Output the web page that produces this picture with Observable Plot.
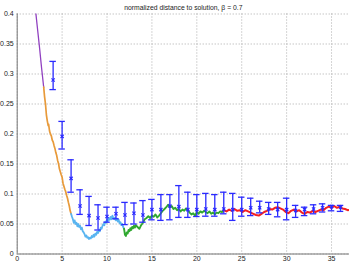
<!DOCTYPE html>
<html><head><meta charset="utf-8">
<script src="https://cdn.jsdelivr.net/npm/d3@7"></script>
<script src="https://cdn.jsdelivr.net/npm/@observablehq/plot@0.6"></script>
<style>
html,body{margin:0;padding:0;background:#fff;overflow:hidden;}
#chart{position:absolute;left:0;top:0;}
</style></head>
<body><div id="chart"></div>
<script>
const title = "normalized distance to solution, \u03b2 = 0.7";
const xTicks = [0, 5, 10, 15, 20, 25, 30, 35];
const yTicks = [0, 0.05, 0.1, 0.15, 0.2, 0.25, 0.3, 0.35, 0.4];

// error bars: x, mean, low, high
const errX    = [4, 5, 6, 7, 8, 9, 10, 11, 12, 13, 14, 15, 16, 17, 18, 19, 20, 21, 22, 23, 24, 25, 26, 27, 28, 29, 30, 31, 32, 33, 34, 35, 36];
const errMean = [0.290, 0.196, 0.126, 0.080, 0.064, 0.060, 0.0625, 0.067, 0.065, 0.068, 0.065, 0.074, 0.074, 0.080, 0.079, 0.074, 0.074, 0.075, 0.074, 0.075, 0.074, 0.074, 0.077, 0.077, 0.075, 0.074, 0.074, 0.0725, 0.074, 0.075, 0.077, 0.079, 0.078];
const errLow  = [0.274, 0.175, 0.103, 0.066, 0.0475, 0.040, 0.053, 0.0587, 0.049, 0.050, 0.053, 0.057, 0.056, 0.057, 0.061, 0.061, 0.0625, 0.063, 0.063, 0.067, 0.056, 0.063, 0.064, 0.0686, 0.066, 0.062, 0.057, 0.061, 0.064, 0.067, 0.070, 0.072, 0.071];
const errHigh = [0.321, 0.221, 0.157, 0.107, 0.096, 0.082, 0.078, 0.078, 0.086, 0.085, 0.089, 0.091, 0.099, 0.099, 0.114, 0.103, 0.099, 0.101, 0.099, 0.103, 0.101, 0.0947, 0.093, 0.088, 0.086, 0.086, 0.093, 0.081, 0.078, 0.082, 0.0836, 0.081, 0.081];

// curve segments [x, y]
const purple = [[1.9,0.43],[2.1,0.398],[2.3,0.37],[2.5,0.342],[2.7,0.312],[2.95,0.278]];
const orange = [[2.95,0.278],[3.05,0.262],[3.15,0.25],[3.25,0.232],[3.35,0.222],[3.45,0.214],[3.5,0.216],[3.6,0.205],[3.7,0.2],[3.8,0.197],[3.9,0.19],[4.0,0.187],[4.1,0.181],[4.2,0.176],[4.3,0.169],[4.4,0.164],[4.5,0.156],[4.6,0.151],[4.7,0.142],[4.8,0.137],[4.9,0.132],[5.0,0.128],[5.1,0.118],[5.2,0.113],[5.3,0.108],[5.4,0.104],[5.5,0.098],[5.6,0.093],[5.7,0.086],[5.8,0.08],[5.9,0.072],[6.0,0.067]];
const blue = [[6.0,0.067],[6.1,0.062],[6.2,0.058],[6.3,0.052],[6.4,0.056],[6.5,0.05],[6.6,0.052],[6.7,0.046],[6.8,0.05],[6.9,0.045],[7.0,0.047],[7.1,0.041],[7.2,0.044],[7.3,0.038],[7.4,0.036],[7.5,0.033],[7.6,0.029],[7.7,0.031],[7.8,0.027],[7.9,0.028],[8.0,0.025],[8.1,0.027],[8.2,0.026],[8.3,0.03],[8.4,0.028],[8.5,0.032],[8.6,0.029],[8.7,0.034],[8.8,0.032],[8.9,0.037],[9.0,0.035],[9.1,0.04],[9.2,0.038],[9.3,0.044],[9.4,0.042],[9.5,0.047],[9.6,0.05],[9.7,0.048],[9.8,0.054],[9.9,0.052],[10.0,0.058],[10.1,0.055],[10.2,0.06],[10.3,0.057],[10.4,0.062],[10.5,0.058],[10.6,0.064],[10.7,0.06],[10.8,0.058],[10.9,0.061],[11.0,0.056],[11.1,0.059],[11.2,0.054],[11.3,0.057],[11.4,0.051],[11.5,0.053],[11.6,0.048],[11.7,0.05],[11.8,0.045],[11.9,0.042]];
const green = [[11.9,0.042],[12.0,0.032],[12.1,0.03],[12.2,0.036],[12.3,0.034],[12.4,0.04],[12.5,0.038],[12.6,0.043],[12.7,0.04],[12.8,0.045],[12.9,0.043],[13.0,0.047],[13.1,0.044],[13.2,0.048],[13.4,0.045],[13.6,0.042],[13.8,0.048],[14.0,0.052],[14.2,0.058],[14.4,0.06],[14.6,0.063],[14.8,0.06],[15.0,0.064],[15.2,0.062],[15.4,0.066],[15.6,0.061],[15.8,0.064],[16.0,0.068],[16.2,0.072],[16.4,0.075],[16.6,0.078],[16.8,0.082],[17.0,0.078],[17.2,0.08],[17.4,0.075],[17.6,0.077],[17.8,0.073],[18.0,0.075],[18.2,0.071],[18.4,0.074],[18.6,0.072],[18.8,0.076],[19.0,0.073],[19.2,0.069],[19.4,0.066],[19.6,0.068],[19.8,0.064],[20.0,0.07],[20.2,0.067],[20.4,0.071],[20.6,0.069],[20.8,0.072],[21.0,0.07],[21.2,0.068],[21.4,0.071],[21.6,0.067],[21.8,0.069],[22.0,0.066],[22.2,0.069],[22.4,0.068],[22.6,0.071],[22.8,0.07],[23.0,0.073]];
const red = [[23.0,0.073],[23.3,0.071],[23.6,0.074],[23.9,0.072],[24.2,0.075],[24.5,0.072],[24.8,0.073],[25.1,0.07],[25.4,0.073],[25.7,0.071],[26.0,0.069],[26.3,0.067],[26.6,0.065],[26.9,0.064],[27.2,0.067],[27.5,0.07],[27.8,0.072],[28.1,0.075],[28.4,0.074],[28.7,0.077],[29.0,0.078],[29.3,0.076],[29.6,0.074],[29.9,0.07],[30.2,0.068],[30.5,0.072],[30.8,0.074],[31.1,0.071],[31.4,0.073],[31.7,0.069],[32.0,0.067],[32.3,0.07],[32.6,0.069],[32.9,0.072],[33.2,0.07],[33.5,0.072],[33.8,0.074],[34.1,0.073],[34.4,0.077],[34.7,0.079],[35.0,0.077],[35.3,0.08],[35.6,0.077],[35.9,0.079],[36.2,0.076],[36.5,0.075],[36.8,0.073],[37.1,0.074]];

const segments = [
  {pts: purple, color: "#9040c0", w: 1.3},
  {pts: orange, color: "#e89a3a", w: 1.7},
  {pts: blue,   color: "#58b4f0", w: 1.8},
  {pts: green,  color: "#30a830", w: 1.9},
  {pts: red,    color: "#f52020", w: 2}
];

const err = errX.map((x, i) => ({x, m: errMean[i], lo: errLow[i], hi: errHigh[i]}));
const capHalf = 0.36;
const errColor = "#2a2aff";
const font = "Liberation Sans, Arial, sans-serif";

const chart = Plot.plot({
  width: 349, height: 262,
  marginTop: 13.5, marginLeft: 16.7, marginRight: 0, marginBottom: 8.5,
  style: {fontFamily: font, fontSize: "7px", color: "#222", background: "#fff", overflow: "visible"},
  x: {domain: [0, 37], label: null},
  y: {domain: [0, 0.4], label: null},
  marks: [
    Plot.gridX(xTicks, {stroke: "#aaa", strokeOpacity: 1, strokeDasharray: "1,2"}),
    Plot.gridY(yTicks, {stroke: "#aaa", strokeOpacity: 1, strokeDasharray: "1,2"}),
    Plot.ruleX([0], {stroke: "#777"}),
    Plot.ruleY([0], {stroke: "#777"}),
    ...segments.map(s => Plot.line(s.pts, {x: d => d[0], y: d => d[1], stroke: s.color, strokeWidth: s.w, clip: true})),
    Plot.ruleX(err, {x: "x", y1: "lo", y2: "hi", stroke: errColor, strokeWidth: 1.3}),
    Plot.ruleY(err, {y: "hi", x1: d => d.x - capHalf, x2: d => d.x + capHalf, stroke: errColor, strokeWidth: 1.3}),
    Plot.ruleY(err, {y: "lo", x1: d => d.x - capHalf, x2: d => d.x + capHalf, stroke: errColor, strokeWidth: 1.3}),
    Plot.dot(err, {x: "x", y: "m", symbol: "times", r: 1.6, stroke: errColor, strokeWidth: 1.2}),
    Plot.axisY(yTicks, {label: null, tickSize: 0, tickPadding: 3.5, fontSize: 7, tickFormat: d => String(+d.toFixed(2)), fill: "#222"}),
    Plot.axisX(xTicks, {label: null, tickSize: 0, tickPadding: 2, fontSize: 7, fill: "#222"}),
    Plot.text([title], {frameAnchor: "top", dy: -9, fontSize: 6.8, fill: "#222"})
  ]
});
document.getElementById("chart").appendChild(chart);
</script></body></html>
